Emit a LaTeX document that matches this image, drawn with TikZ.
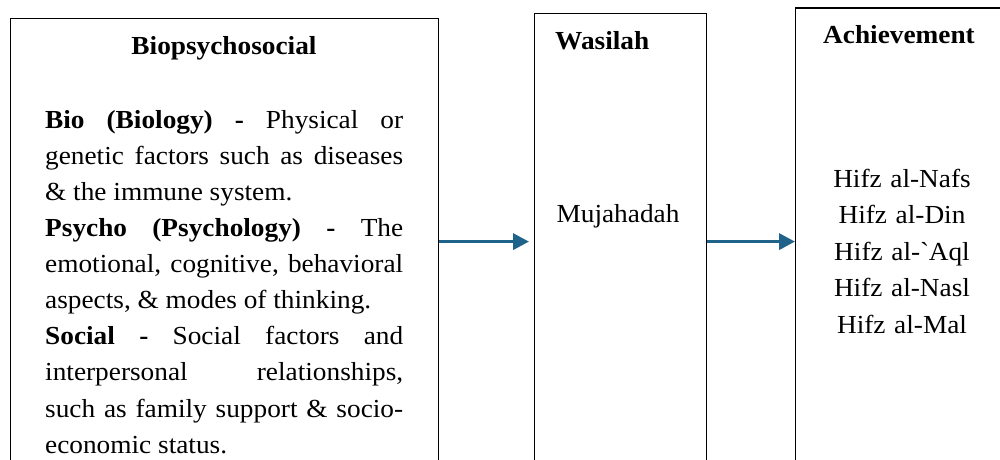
\documentclass[tikz,border=0pt]{standalone}
\usepackage{fontspec}
\setmainfont{Liberation Serif}[FakeStretch=1.05]
\usetikzlibrary{arrows.meta}
\definecolor{flowblue}{RGB}{31,98,138}

\begin{document}
\begin{tikzpicture}[x=1pt,y=-1pt,
    box/.style={draw,line width=1.2pt,inner sep=0pt,anchor=north west},
    flow/.style={flowblue,line width=3.5pt,-{Triangle[length=16pt,width=16pt]}},
    txt/.style={inner sep=0pt,font=\fontsize{26}{36.1}\selectfont}]
    \useasboundingbox (0,0) rectangle (1000,459);
    \clip (0,0) rectangle (1000,459);
    % the three columns, cut off at the bottom
    \node[box,minimum width=428pt,minimum height=446.6pt] (bps) at (10,17.7) {};
    \node[box,minimum width=171.7pt,minimum height=456.6pt] (was) at (534,12.7) {};
    \node[box,minimum width=214pt,minimum height=467.4pt] (ach) at (795,7.3) {};
    \draw[flow,shorten >=5pt] (bps) -- (was);
    \draw[flow] (was) -- (ach);
    % headings
    \node[txt,anchor=base] (bpshead) at (224,54) {\textbf{Biopsychosocial}};
    \node[txt,anchor=base west] (washead) at (555,49) {\textbf{Wasilah}};
    \node[txt,anchor=base west] (achhead) at (823,43) {\textbf{Achievement}};
    % contents
    \node[txt,anchor=north west,text width=358pt,align=justify] (bpstext) at (45,102.73)
      {\parindent=0pt\tolerance=10000\hyphenpenalty=10000
       \strut\textbf{Bio (Biology) -} Physical or\linebreak
       genetic factors such as diseases\linebreak
       \& the immune system.\par
       \textbf{Psycho (Psychology) -} The\linebreak
       emotional, cognitive, behavioral\linebreak
       aspects, \& modes of thinking.\par
       \textbf{Social -} Social factors and\linebreak
       interpersonal relationships,\linebreak
       such as family support \& socio-\linebreak
       economic status.};
    \node[txt,anchor=base] (mujahadah) at (618,222) {Mujahadah};
    \node[txt,anchor=north,text width=200pt,align=center,
      font=\fontsize{26}{36.5}\selectfont] (hifz) at (902,161.45)
      {\strut Hifz al-Nafs\\ Hifz al-Din\\
       Hifz al-\XeTeXglyph\XeTeXglyphindex"grave"\relax Aql\\
       Hifz al-Nasl\\ Hifz al-Mal};
\end{tikzpicture}
\end{document}
